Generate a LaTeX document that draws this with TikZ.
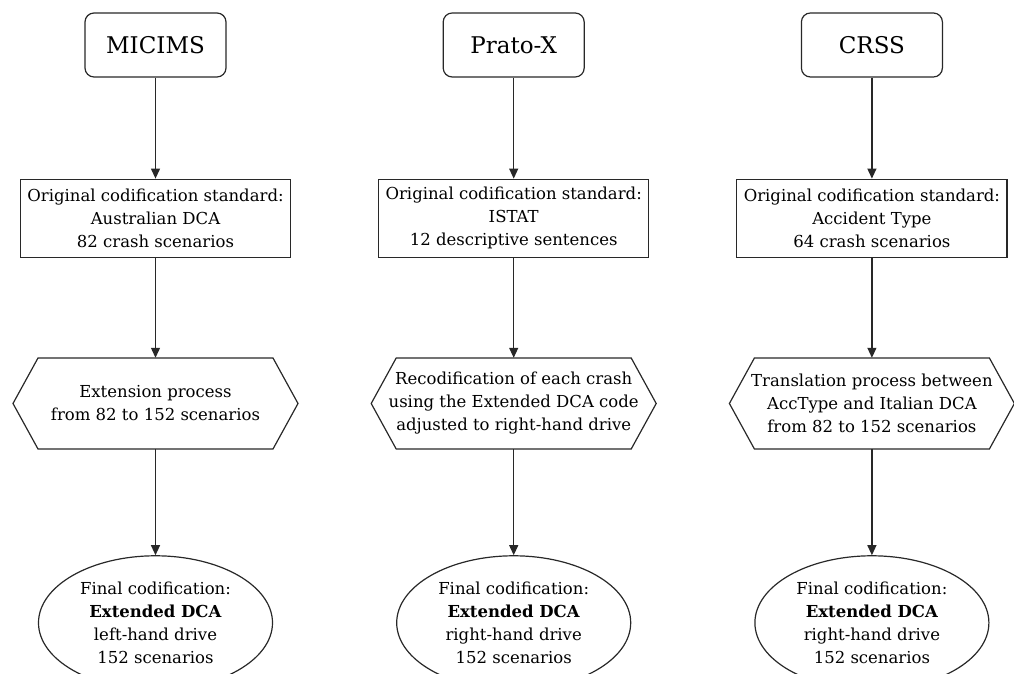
\documentclass[tikz,border=0pt]{standalone}
\usepackage{fontspec}
\setmainfont{DejaVu Serif}
\usepackage{tikz}
\usetikzlibrary{shapes.geometric, arrows.meta, positioning}
\definecolor{edgegray}{RGB}{40, 40, 40}

\begin{document}
\begin{tikzpicture}[x=1pt, y=1pt, node distance=100pt, auto,
    srcbox/.style={rectangle, draw=edgegray, line width=1.2pt, rounded corners=9pt, minimum width=141pt, minimum height=64pt, font=\fontsize{23}{28}\selectfont},
    stdbox/.style={rectangle, draw=edgegray, line width=1.2pt, align=center, minimum height=78pt, inner xsep=7pt, inner ysep=2pt, font=\fontsize{16.5}{23}\selectfont},
    procbox/.style={rectangle, align=center, minimum width=235pt, minimum height=91pt, inner sep=0pt, font=\fontsize{16.5}{23}\selectfont},
    hexline/.style={draw=edgegray, line width=1.2pt, line join=miter},
    finalbox/.style={ellipse, draw=edgegray, line width=1.2pt, align=center, minimum width=234pt, minimum height=134pt, inner sep=0pt, font=\fontsize{16.5}{23}\selectfont},
    line/.style={draw=edgegray, line width=1.2pt, -{Triangle[length=10pt, width=9pt]}}]

    \useasboundingbox (0,0) rectangle (1014,674);
    \clip (0,0) rectangle (1014,674);

    % sources
    \node [srcbox] (micims) at (155.5,629) {MICIMS};
    \node [srcbox, right=216pt of micims] (prato) {Prato-X};
    \node [srcbox, right=216pt of prato] (crss) {CRSS};

    % original standards
    \node [stdbox, below=101pt of micims] (micstd) {Original codification standard:\\Australian DCA\\82 crash scenarios};
    \node [stdbox, below=101pt of prato] (pratostd) {Original codification standard:\\ISTAT\\12 descriptive sentences};
    \node [stdbox, below=101pt of crss] (crssstd) {Original codification standard:\\Accident Type\\64 crash scenarios};

    % processes (hexagon outline drawn below)
    \node [procbox, below=of micstd] (micproc) {Extension process\\from 82 to 152 scenarios};
    \node [procbox, below=of pratostd] (pratoproc) {Recodification of each crash\\using the Extended DCA code\\adjusted to right-hand drive};
    \node [procbox, below=of crssstd] (crssproc) {Translation process between\\AccType and Italian DCA\\from 82 to 152 scenarios};
    \foreach \n in {micproc, pratoproc, crssproc}
        \draw [hexline] ([shift={(-117.5,45.5)}]\n.center) -- ++(235,0) -- ++(25,-45.5) -- ++(-25,-45.5) -- ++(-235,0) -- ++(-25,45.5) -- cycle;

    % final codification
    \node [finalbox, below=106pt of micproc] (micfinal) {Final codification:\\\textbf{Extended DCA}\\left-hand drive\\152 scenarios};
    \node [finalbox, below=106pt of pratoproc] (pratofinal) {Final codification:\\\textbf{Extended DCA}\\right-hand drive\\152 scenarios};
    \node [finalbox, below=106pt of crssproc] (crssfinal) {Final codification:\\\textbf{Extended DCA}\\right-hand drive\\152 scenarios};

    \path [line] (micims) -- (micstd);
    \path [line] (micstd) -- (micproc);
    \path [line] (micproc) -- (micfinal);
    \path [line] (prato) -- (pratostd);
    \path [line] (pratostd) -- (pratoproc);
    \path [line] (pratoproc) -- (pratofinal);
    \path [line] (crss) -- (crssstd);
    \path [line] (crssstd) -- (crssproc);
    \path [line] (crssproc) -- (crssfinal);
\end{tikzpicture}
\end{document}
